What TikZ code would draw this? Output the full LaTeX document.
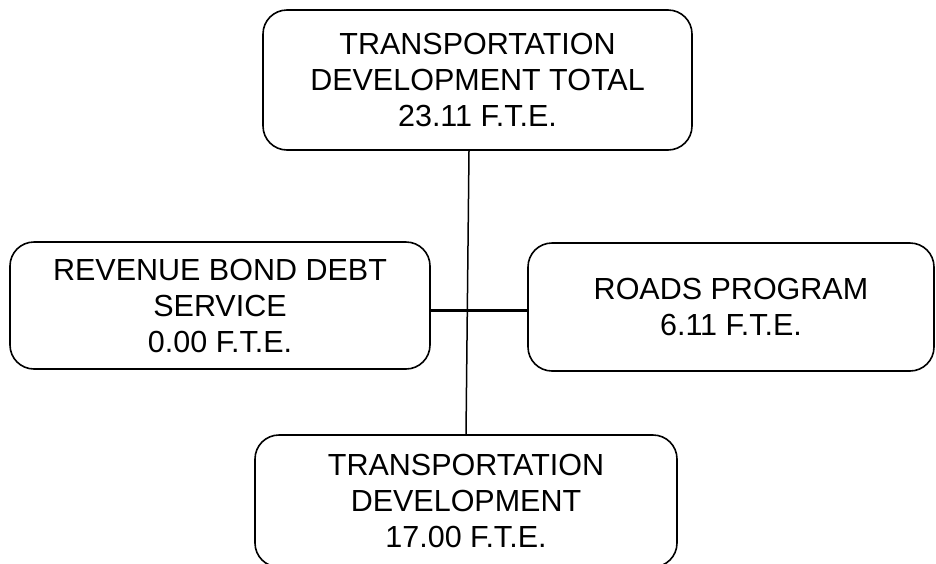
\documentclass[tikz,border=0pt]{standalone}
\usepackage{fontspec}
\setmainfont{Liberation Sans}

\begin{document}
\begin{tikzpicture}[x=1pt, y=-1pt,
  unit/.style={draw, line width=1.6pt, rounded corners=24pt, align=center,
    font=\fontsize{30.5}{36}\selectfont, inner sep=0pt},
  link/.style={line width=1.5pt}]
\useasboundingbox (0,0) rectangle (936,563);
%
% --- Total at the top ---
\node[unit, minimum width=429, minimum height=140] (total) at (477.5,80)
  {TRANSPORTATION\\DEVELOPMENT TOTAL\\23.11 F.T.E.};
% --- Side units ---
\node[unit, minimum width=420, minimum height=127] (bond) at (220,305.5)
  {REVENUE BOND DEBT\\SERVICE\\0.00 F.T.E.};
\node[unit, minimum width=406, minimum height=128] (roads) at (731,307)
  {ROADS PROGRAM\\6.11 F.T.E.};
% --- Unit below (runs off the page) ---
\node[unit, minimum width=422, minimum height=132] (dev) at (466,501)
  {TRANSPORTATION\\DEVELOPMENT\\17.00 F.T.E.};
%
% --- Connectors ---
\coordinate (hub) at (468,310);
\draw[link] ([xshift=-8.5pt]total.south) -- (dev.north);
\draw[link, line width=3pt] (bond.east |- hub) -- (roads.west |- hub);
%
\end{tikzpicture}
\end{document}
